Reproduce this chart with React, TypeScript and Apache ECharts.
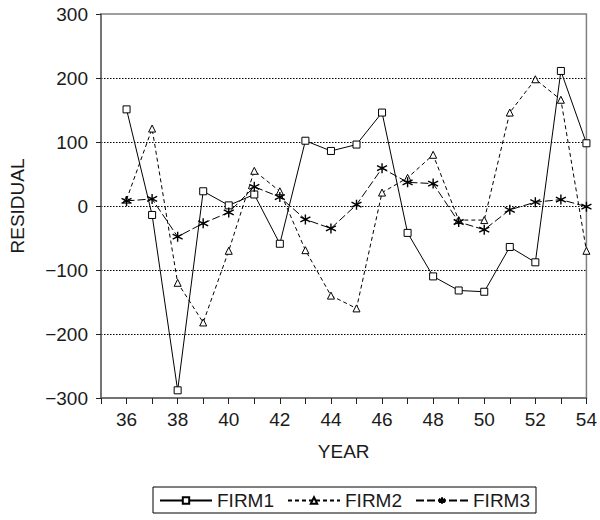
import React, { useEffect, useRef } from "react";
import * as echarts from "echarts";

const years = [36, 37, 38, 39, 40, 41, 42, 43, 44, 45, 46, 47, 48, 49, 50, 51, 52, 53, 54];
const firm1 = [151, -14, -288, 23, 1, 18, -59, 102, 86, 96, 146, -42, -110, -132, -134, -64, -88, 211, 98];
const firm2 = [10, 121, -120, -182, -70, 55, 23, -69, -140, -160, 21, 44, 80, -22, -22, 146, 198, 166, -70];
const firm3 = [8, 11, -48, -27, -10, 30, 14, -21, -35, 2, 59, 37, 35, -25, -37, -6, 6, 10, -1];
const seriesNames = ["FIRM1", "FIRM2", "FIRM3"];

const FONT = "Liberation Sans";
const FS = 19;
const ASTERISK = "path://M5 0 L5 10 M0.7 2.5 L9.3 7.5 M0.7 7.5 L9.3 2.5";

export default function App() {
  const ref = useRef<HTMLDivElement>(null);
  useEffect(() => {
    const chart = echarts.init(ref.current!, undefined, { renderer: "svg" });
    const pair = (arr: number[]) => years.map((y, i) => [y, arr[i]]);
    const base = {
      type: "line" as const,
      color: "#000",
      symbolSize: 7,
      itemStyle: { color: "#fff", borderColor: "#000", borderWidth: 1 },
      emphasis: { disabled: true },
    };
    chart.setOption({
      animation: false,
      textStyle: { fontFamily: FONT },
      grid: {
        left: 101, right: 11, top: 14, bottom: 122,
        show: true, borderColor: "#808080", borderWidth: 1.5, backgroundColor: "transparent",
      },
      legend: {
        data: seriesNames,
        bottom: 7,
        left: 153,
        width: 440,
        borderColor: "#000",
        borderWidth: 1,
        padding: [4, 6, 3, 6],
        itemWidth: 52,
        itemHeight: 8,
        itemGap: 13,
        textStyle: { fontFamily: FONT, fontSize: FS, color: "#1a1a1a", padding: [0, 0, 0, 0] },
      },
      xAxis: {
        type: "value",
        min: 35,
        max: 54,
        interval: 1,
        name: "YEAR",
        nameLocation: "middle",
        nameGap: 44,
        nameTextStyle: { fontFamily: FONT, fontSize: FS, color: "#1a1a1a" },
        axisLine: { onZero: false, lineStyle: { color: "#666", width: 1.5 } },
        axisTick: { show: true, length: 6, lineStyle: { color: "#222" } },
        axisLabel: {
          fontFamily: FONT, fontSize: FS, color: "#1a1a1a", margin: 12,
          formatter: (v: number) => (v >= 36 && v % 2 === 0 ? String(v) : ""),
          showMinLabel: true, showMaxLabel: true,
        },
        splitLine: { show: false },
      },
      yAxis: {
        type: "value",
        min: -300,
        max: 300,
        interval: 100,
        name: "RESIDUAL",
        nameLocation: "middle",
        nameGap: 74,
        nameTextStyle: { fontFamily: FONT, fontSize: FS, color: "#1a1a1a" },
        axisLine: { show: true, onZero: false, lineStyle: { color: "#666", width: 1.5 } },
        axisTick: { show: true, length: 5, lineStyle: { color: "#222" } },
        axisLabel: {
          fontFamily: FONT, fontSize: FS, color: "#1a1a1a", margin: 13,
          formatter: (v: number) => (v < 0 ? "\u2212" + Math.abs(v) : String(v)),
        },
        splitLine: {
          show: true, showMinLine: false, showMaxLine: false,
          lineStyle: { color: "#000", type: [1.5, 1.5], width: 1 },
        },
      },
      series: [
        { ...base, name: "FIRM1", data: pair(firm1), symbol: "rect", symbolSize: 7,
          lineStyle: { color: "#000", width: 1, type: "solid" } },
        { ...base, name: "FIRM2", data: pair(firm2), symbol: "triangle", symbolSize: 7,
          lineStyle: { color: "#000", width: 1, type: [4, 3] } },
        { ...base, name: "FIRM3", data: pair(firm3), symbol: ASTERISK, symbolSize: 10,
          itemStyle: { color: "none", borderColor: "#000", borderWidth: 1.4 },
          lineStyle: { color: "#000", width: 1, type: [8, 3] } },
      ],
    });
    return () => chart.dispose();
  }, []);
  return (
    <div
      ref={ref}
      style={{ position: "fixed", left: 0, top: 0, width: 600, height: 520, background: "#fff" }}
    />
  );
}
